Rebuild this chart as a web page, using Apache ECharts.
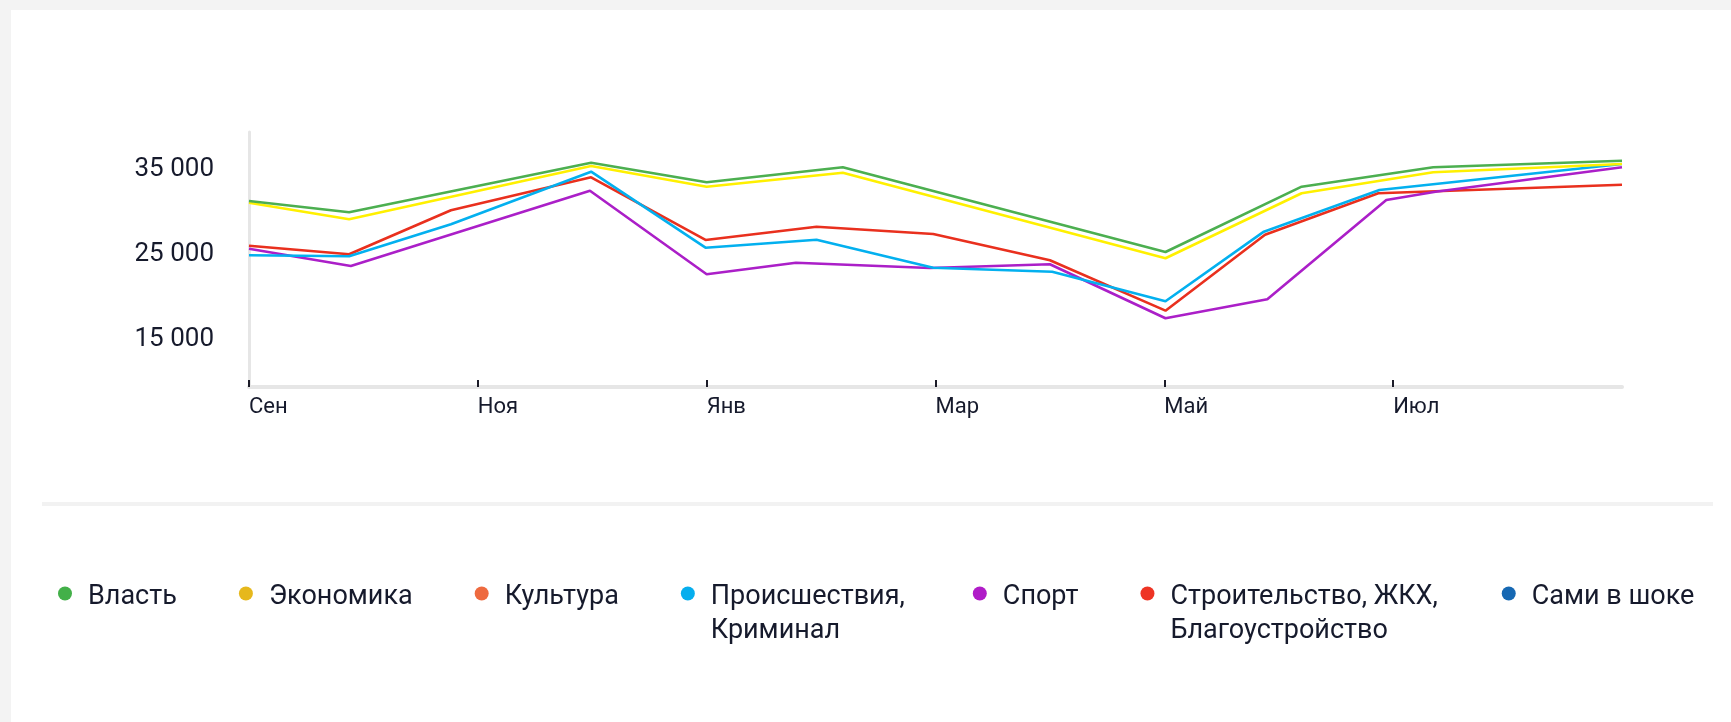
<!DOCTYPE html>
<html>
<head>
<meta charset="utf-8">
<script src="https://cdn.jsdelivr.net/npm/echarts@6/dist/echarts.min.js"></script>
<style>
  html, body { margin: 0; padding: 0; background: #ffffff; }
  #chart { width: 1731px; height: 722px; }
</style>
</head>
<body>
<div id="chart"></div>
<script>
// ---- data (x = months from Sep, y = values) ----
const tickPositions = [0, 2, 4, 6, 8, 10];
const tickLabels = ['Сен', 'Ноя', 'Янв', 'Мар', 'Май', 'Июл'];
const yLabelValues = [15000, 25000, 35000];

const seriesNames = ['Власть', 'Экономика', 'Культура', 'Происшествия,\nКриминал', 'Спорт', 'Строительство, ЖКХ,\nБлагоустройство', 'Сами в шоке'];

const vlastX = [0, 0.875, 2.99, 4.0, 5.19, 8.01, 9.2, 10.35, 12];
const vlastY = [30965, 29635, 35470, 33165, 34925, 24965, 32647, 34925, 35706];

const ekonomikaX = [0, 0.875, 2.99, 4.0, 5.19, 8.01, 9.2, 10.35, 12];
const ekonomikaY = [30765, 28810, 35082, 32647, 34294, 24224, 31871, 34341, 35318];

const kulturaX = [];
const kulturaY = [];

const proisX = [0, 0.875, 1.765, 2.99, 3.99, 4.96, 5.98, 7.02, 8.01, 8.87, 9.88, 12];
const proisY = [24576, 24459, 28224, 34412, 25471, 26412, 23118, 22647, 19165, 27353, 32259, 35318];

const sportX = [0, 0.89, 2.98, 4.0, 4.78, 5.95, 7.0, 8.01, 8.9, 9.94, 10.37, 12];
const sportY = [25353, 23317, 32176, 22341, 23706, 23080, 23518, 17165, 19400, 31082, 32059, 34929];

const stroyX = [0, 0.875, 1.765, 2.99, 3.99, 4.96, 5.98, 7.0, 8.01, 8.88, 9.87, 12];
const stroyY = [25706, 24694, 29870, 33753, 26376, 27941, 27082, 23988, 18059, 27000, 31871, 32882];

const samiX = [];
const samiY = [];

const lineColors = ['#4caf50', '#fff000', '#ee6a3f', '#03b0ef', '#ab1fc8', '#e9301e', '#1668b3'];
const dotColors  = ['#43b049', '#e6b81c', '#ee6a3f', '#06aeee', '#b01cc8', '#ee3424', '#1668b3'];

const xs = [vlastX, ekonomikaX, kulturaX, proisX, sportX, stroyX, samiX];
const ys = [vlastY, ekonomikaY, kulturaY, proisY, sportY, stroyY, samiY];

function zip(a, b) { return a.map((v, i) => [v, b[i]]); }

const chart = echarts.init(document.getElementById('chart'), null, { renderer: 'canvas' });
const textColor = '#161a2c';
const font = 'Roboto, "Noto Sans", sans-serif';

const drawOrder = [5, 4, 3, 1, 0, 2, 6];

const series = drawOrder.map(i => ({
  name: seriesNames[i],
  type: 'line',
  data: zip(xs[i], ys[i]),
  showSymbol: false,
  symbol: 'none',
  lineStyle: { width: 2.6, color: lineColors[i] },
  itemStyle: { color: lineColors[i] },
  emphasis: { disabled: true },
  animation: false
}));

// extra right space after the two wrapped labels (their lines are a bit wider in the original)
const legendRightPad = [0, 0, 0, 6, 0, 2, 0];

const legendData = seriesNames.map((n, i) => ({
  name: n,
  itemStyle: { color: dotColors[i], borderWidth: 0 },
  textStyle: { padding: [0, legendRightPad[i], 0, 11] }
}));

// circle in the top 14px of a 14x21 box, so the label sits slightly lower than the dot
const dotIcon = 'path://M0,7A7,7,0,1,0,14,7A7,7,0,1,0,0,7Z M7,21L7,21';

chart.setOption({
  animation: false,
  textStyle: { fontFamily: font },
  grid: { left: 249, right: 109, top: 132, bottom: 335, containLabel: false },
  xAxis: {
    type: 'value',
    min: 0,
    max: 12,
    axisLine: { show: true, lineStyle: { color: '#e6e6e6', width: 4 } },
    axisTick: {
      show: true, inside: true, length: 7,
      customValues: tickPositions,
      lineStyle: { color: '#1c1c28', width: 2 }
    },
    axisLabel: {
      customValues: tickPositions,
      formatter: v => tickLabels[tickPositions.indexOf(v)] || '',
      align: 'left',
      margin: 9,
      fontSize: 22,
      color: textColor,
      fontFamily: font
    },
    splitLine: { show: false }
  },
  yAxis: {
    type: 'value',
    min: 9080,
    max: 39080,
    axisLine: { show: true, lineStyle: { color: '#e6e6e6', width: 3 } },
    axisTick: { show: false },
    axisLabel: {
      customValues: yLabelValues,
      formatter: v => String(Math.round(v / 1000)) + ' 000',
      margin: 35,
      fontSize: 26,
      verticalAlign: 'top',
      lineHeight: 5,
      color: textColor,
      fontFamily: font
    },
    splitLine: { show: false }
  },
  legend: {
    data: legendData,
    icon: dotIcon,
    itemWidth: 14,
    itemHeight: 21,
    itemGap: 62,
    left: 58,
    top: 546,
    width: 1700,
    padding: 0,
    selectedMode: false,
    itemStyle: { borderWidth: 0 },
    formatter: name => name.indexOf('\n') >= 0 ? '\n' + name : name,
    textStyle: { fontSize: 27, lineHeight: 34, padding: [0, 0, 0, 11], color: textColor, fontFamily: font }
  },
  graphic: [
    { type: 'rect', shape: { x: 0, y: 0, width: 1731, height: 10 }, style: { fill: '#f3f3f3' }, silent: true },
    { type: 'rect', shape: { x: 0, y: 0, width: 11, height: 722 }, style: { fill: '#f3f3f3' }, silent: true },
    { type: 'rect', shape: { x: 42, y: 502, width: 1671, height: 4 }, style: { fill: '#f2f2f2' }, silent: true }
  ],
  series: series
});
</script>
</body>
</html>
